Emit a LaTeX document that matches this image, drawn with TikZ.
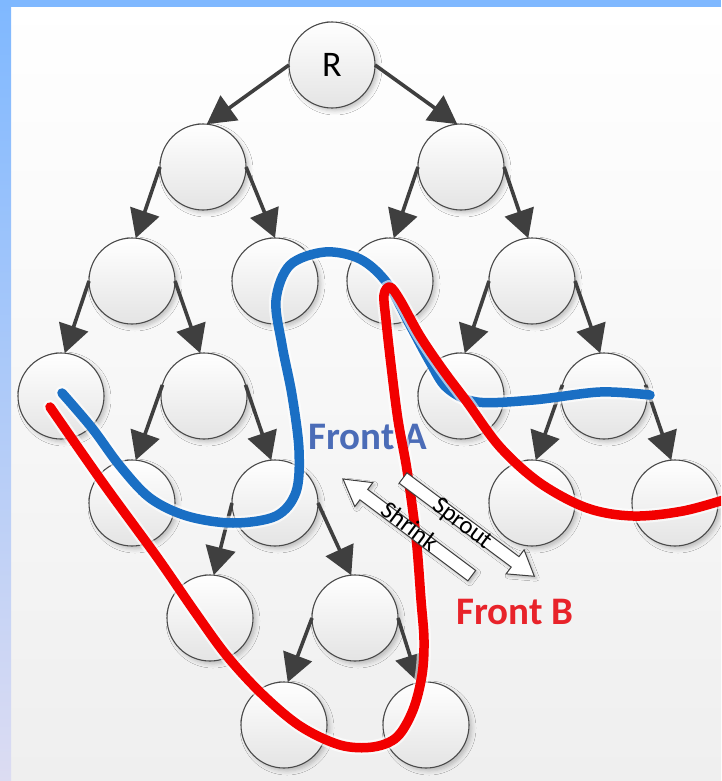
\documentclass[tikz,border=0pt]{standalone}
\usepackage{fontspec}
\setmainfont{Carlito}
\usetikzlibrary{arrows.meta,shadows.blur}
\definecolor{frameblue}{HTML}{7FB8FF}
\definecolor{framelow}{HTML}{DCDCF2}
\definecolor{bglow}{HTML}{EFEFEF}
\definecolor{nodeline}{HTML}{4A4A4A}
\definecolor{nodebot}{HTML}{E4E4E4}
\definecolor{edgecol}{HTML}{3F3F3F}
\definecolor{frontblue}{HTML}{1A6FC4}
\definecolor{frontred}{HTML}{F20000}
\definecolor{labelblue}{HTML}{4B6CB7}
\definecolor{labelred}{HTML}{E8232A}
\tikzset{
  tnode/.style={circle, minimum size=86pt, inner sep=0pt, outer sep=0pt,
    draw=nodeline, line width=1.1pt, top color=white, bottom color=nodebot,
    blur shadow={shadow xshift=3pt, shadow yshift=-3pt, shadow blur radius=4pt, shadow opacity=22},
    font=\fontsize{36}{40}\selectfont},
  treeedge/.style={draw=edgecol, line width=3.6pt, -{Triangle[length=28pt,width=30pt]}},
  blockarrow/.style={draw=edgecol, line width=1pt, fill=white, line join=miter,
    blur shadow={shadow xshift=2pt, shadow yshift=-2pt, shadow blur radius=3pt, shadow opacity=25}},
  halo/.style={draw=white, line width=14pt, opacity=0.6, line cap=round, line join=round},
  frontline/.style={line width=9.5pt, line cap=round, line join=round},
  frontlabel/.style={font=\fontsize{39}{42}\selectfont\bfseries},
  arrowlabel/.style={font=\fontsize{25}{27}\selectfont, text=black, inner sep=0pt}
}
\begin{document}
\begin{tikzpicture}[x=1pt,y=-1pt]
\useasboundingbox (0,0) rectangle (721,781);
\clip (0,0) rectangle (721,781);
% background and frame
\shade[top color=white, bottom color=bglow] (0,0) rectangle (721,781);
\shade[top color=frameblue, bottom color=framelow] (0,0) rectangle (11,781);
\fill[frameblue] (0,0) rectangle (721,7);

% nodes
\node[tnode] (R)  at (332,65)  {R};
\node[tnode] (a1) at (203,167) {};
\node[tnode] (a2) at (461,167) {};
\node[tnode] (b1) at (132,281) {};
\node[tnode] (b2) at (275,281) {};
\node[tnode] (b3) at (390,281) {};
\node[tnode] (b4) at (532,281) {};
\node[tnode] (c1) at (61,396)  {};
\node[tnode] (c2) at (204,396) {};
\node[tnode] (c3) at (461,396) {};
\node[tnode] (c4) at (604,396) {};
\node[tnode] (d1) at (132,503) {};
\node[tnode] (d2) at (275,503) {};
\node[tnode] (d3) at (532,503) {};
\node[tnode] (d4) at (675,503) {};
\node[tnode] (e1) at (210,618) {};
\node[tnode] (e2) at (355,618) {};
\node[tnode] (f1) at (284,725) {};
\node[tnode] (f2) at (426,725) {};

% edges
\draw[treeedge] (R.west)  -- (a1.85);
\draw[treeedge] (R.east)  -- (a2.95);
\draw[treeedge] (a1.west) -- (b1.85);
\draw[treeedge] (a1.east) -- (b2.90);
\draw[treeedge] (a2.west) -- (b3.85);
\draw[treeedge] (a2.east) -- (b4.95);
\draw[treeedge] (b1.west) -- (c1.85);
\draw[treeedge] (b1.east) -- (c2.95);
\draw[treeedge] (b4.west) -- (c3.85);
\draw[treeedge] (b4.east) -- (c4.95);
\draw[treeedge] (c2.165) -- (d1.85);
\draw[treeedge] (c2.15)  -- (d2.95);
\draw[treeedge] (c4.165) -- (d3.85);
\draw[treeedge] (c4.15)  -- (d4.95);
\draw[treeedge] (d2.west) -- (e1.85);
\draw[treeedge] (d2.east) -- (e2.95);
\draw[treeedge] (e2.west) -- (f1.85);
\draw[treeedge] (e2.east) -- (f2.100);

% front A label
\node[frontlabel, text=labelblue] (fa) at (368,437) {Front A};

% blue front
\def\bluepath{plot[smooth, tension=0.55] coordinates {(62,393) (92,428) (120,466) (150,498) (187,516) (233,523) (276,516) (296,492) (299,450) (292,395) (282,345) (276,300) (290,265) (325,252) (360,259) (387,283) (410,325) (430,362) (447,388) (477,402) (533,400) (600,392) (650,395)}}
\draw[halo] \bluepath;
\draw[frontline, frontblue] \bluepath;

% red front
\def\redpath{plot[smooth, tension=0.55] coordinates {(50,407) (103,483) (157,557) (195,612) (227,656) (262,694) (300,726) (340,745) (373,747) (397,737) (413,710) (422,675) (424,640) (421,600) (416,537) (407,470) (398,420) (391,365) (386,320) (384,295) (390,287) (400,300) (420,336) (443,370) (467,402) (500,447) (540,483) (587,508) (633,516) (683,511) (730,498)}}
\draw[halo] \redpath;
\draw[frontline, frontred] \redpath;

% shrink / sprout block arrows
\begin{scope}[shift={(343,479)}, rotate=-36.9]
\draw[blockarrow] (0,0) -- (26,-15) -- (26,-6.5) -- (161,-6.5) -- (161,6.5) -- (26,6.5) -- (26,15) -- cycle;
\end{scope}
\begin{scope}[shift={(403,478)}, rotate=-36.8]
\draw[blockarrow] (0,-6.5) -- (140,-6.5) -- (140,-15) -- (164,0) -- (140,15) -- (140,6.5) -- (0,6.5) -- cycle;
\end{scope}
\node[arrowlabel, rotate=-36.9] (shrink) at (410,526) {Shrink};
\node[arrowlabel, rotate=-36.8] (sprout) at (462,524) {Sprout};

% front B label
\node[frontlabel, text=labelred] (fb) at (515,612) {Front B};
\end{tikzpicture}
\end{document}
